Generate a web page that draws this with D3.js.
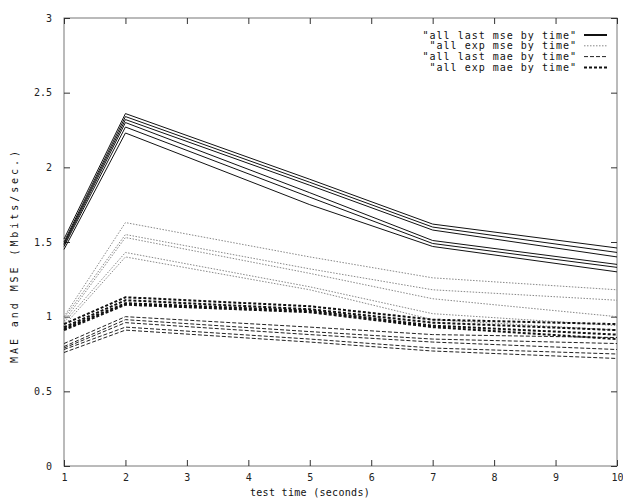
<!DOCTYPE html>
<html>
<head>
<meta charset="UTF-8">
<title>MAE and MSE by test time</title>
<script src="https://d3js.org/d3.v7.min.js"></script>
<style>
  body { margin: 0; background: #fff; }
  text { font-family: "DejaVu Sans Mono", "Liberation Mono", monospace; }
</style>
</head>
<body>
<div id="chart"></div>
<script>
  // test time (seconds) where samples were taken
  var times = [1, 2, 5, 7, 10];

  // "all last mse by time" - solid
  var lastMse = [
    [1.52, 2.36, 1.92, 1.62, 1.46],
    [1.50, 2.34, 1.90, 1.60, 1.43],
    [1.49, 2.32, 1.88, 1.58, 1.40],
    [1.48, 2.30, 1.83, 1.51, 1.35],
    [1.47, 2.27, 1.80, 1.49, 1.33],
    [1.45, 2.23, 1.75, 1.47, 1.30]
  ];
  // "all exp mse by time" - dotted
  var expMse = [
    [1.00, 1.63, 1.40, 1.26, 1.18],
    [0.99, 1.55, 1.32, 1.18, 1.11],
    [0.97, 1.53, 1.29, 1.12, 1.00],
    [0.96, 1.43, 1.20, 1.02, 0.94],
    [0.94, 1.40, 1.18, 0.98, 0.91]
  ];
  // "all last mae by time" - thin dashes
  var lastMae = [
    [0.82, 1.00, 0.93, 0.88, 0.86],
    [0.80, 0.98, 0.90, 0.85, 0.82],
    [0.79, 0.96, 0.88, 0.83, 0.78],
    [0.78, 0.93, 0.85, 0.79, 0.75],
    [0.76, 0.91, 0.83, 0.77, 0.72]
  ];
  // "all exp mae by time" - thick dashes
  var expMae = [
    [0.95, 1.13, 1.07, 0.98, 0.95],
    [0.93, 1.11, 1.05, 0.96, 0.91],
    [0.92, 1.09, 1.04, 0.94, 0.88],
    [0.91, 1.08, 1.03, 0.93, 0.85]
  ];

  var legendNames = ['"all last mse by time"', '"all exp mse by time"',
                     '"all last mae by time"', '"all exp mae by time"'];
  var xTicks = [1, 2, 3, 4, 5, 6, 7, 8, 9, 10];
  var yTicks = [0, 0.5, 1, 1.5, 2, 2.5, 3];

  var w = 623, h = 499;
  // plot box (note: "top" is taken by window.top)
  var padL = 64, padR = 617, padT = 18, padB = 466;

  var styles = [
    { stroke: "#111", width: 1, dash: null },
    { stroke: "#888", width: 1, dash: "1.5,1.5" },
    { stroke: "#222", width: 1, dash: "4,2" },
    { stroke: "#111", width: 2, dash: "3,2" }
  ];
  var groups = [lastMse, expMse, lastMae, expMae];

  var svg = d3.select("#chart").append("svg")
    .attr("width", w)
    .attr("height", h);

  var xScale = d3.scaleLinear().domain([1, 10]).range([padL, padR]);
  var yScale = d3.scaleLinear().domain([0, 3]).range([padB, padT]);

  // frame
  svg.append("rect")
    .attr("x", padL).attr("y", padT)
    .attr("width", padR - padL).attr("height", padB - padT)
    .attr("fill", "none").attr("stroke", "#777").attr("stroke-width", 1);

  function styleAxis(g) {
    g.select(".domain").remove();
    g.selectAll(".tick line").attr("stroke", "#333");
    g.selectAll(".tick text")
      .attr("fill", "#222")
      .style("font-size", "10px")
      .style("font-family", '"DejaVu Sans Mono", monospace');
  }

  svg.append("g")
    .attr("transform", "translate(" + padL + ",0)")
    .call(d3.axisLeft(yScale).tickValues(yTicks).tickSize(-6).tickPadding(12)
      .tickFormat(d3.format("")))
    .call(styleAxis);

  svg.append("g")
    .attr("transform", "translate(" + padR + ",0)")
    .call(d3.axisRight(yScale).tickValues(yTicks).tickSize(-6).tickFormat(""))
    .call(styleAxis);

  svg.append("g")
    .attr("transform", "translate(0," + padB + ")")
    .call(d3.axisBottom(xScale).tickValues(xTicks).tickSize(-6).tickPadding(8))
    .call(styleAxis);

  svg.append("g")
    .attr("transform", "translate(0," + padT + ")")
    .call(d3.axisTop(xScale).tickValues(xTicks).tickSize(-6).tickFormat(""))
    .call(styleAxis);

  // axis titles
  svg.append("text")
    .attr("x", 310).attr("y", 496)
    .attr("text-anchor", "middle")
    .style("font-size", "10px")
    .style("letter-spacing", "0.3px")
    .attr("fill", "#111")
    .text("test time (seconds)");

  svg.append("text")
    .attr("transform", "translate(18," + 257 + ") rotate(-90)")
    .attr("text-anchor", "middle")
    .style("font-size", "10px")
    .attr("textLength", 212)
    .attr("lengthAdjust", "spacing")
    .attr("fill", "#111")
    .text("MAE and MSE (Mbits/sec.)");

  var line = d3.line()
    .x((d, i) => xScale(times[i]))
    .y(d => yScale(d));

  groups.forEach(function (grp, gi) {
    var st = styles[gi];
    svg.append("g").selectAll("path")
      .data(grp)
      .enter()
      .append("path")
      .attr("d", line)
      .attr("fill", "none")
      .attr("stroke", st.stroke)
      .attr("stroke-width", st.width)
      .attr("stroke-dasharray", st.dash);
  });

  // legend
  var legend = svg.append("g");
  legendNames.forEach(function (name, i) {
    var y = 35 + i * 10.8;
    var st = styles[i];
    legend.append("text")
      .attr("x", 577).attr("y", y + 3.5)
      .attr("text-anchor", "end")
      .style("font-size", "10px")
      .style("letter-spacing", "1px")
      .attr("fill", "#111")
      .text(name);
    legend.append("line")
      .attr("x1", 584).attr("x2", 607)
      .attr("y1", y).attr("y2", y)
      .attr("stroke", st.stroke)
      .attr("stroke-width", i == 0 ? 2 : st.width)
      .attr("stroke-dasharray", st.dash);
  });
</script>
</body>
</html>
